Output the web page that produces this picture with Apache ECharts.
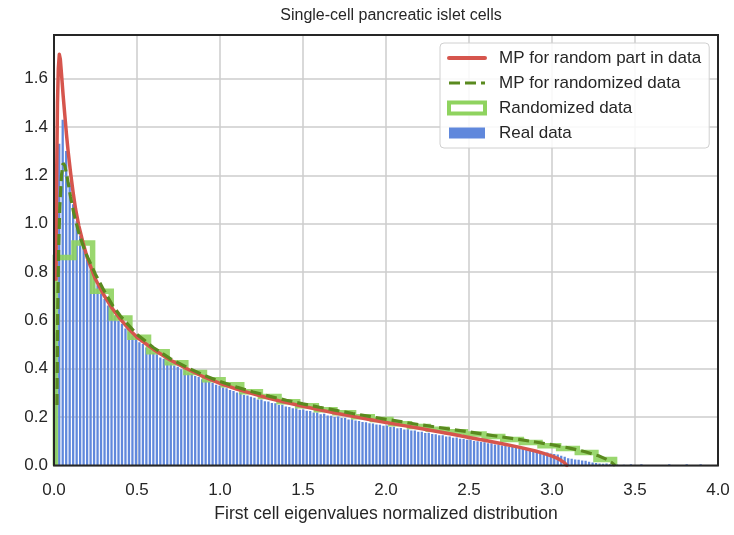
<!DOCTYPE html>
<html><head><meta charset="utf-8">
<script src="https://cdn.jsdelivr.net/npm/echarts@6/dist/echarts.min.js"></script>
<style>html,body{margin:0;padding:0;background:#fff}#c{width:734px;height:535px}</style>
</head><body><div id="c"></div>
<script>
// ---------- data ----------
const titleText = 'Single-cell pancreatic islet cells';
const xAxisName = 'First cell eigenvalues normalized distribution';
const seriesNames = ['MP for random part in data', 'MP for randomized data', 'Randomized data', 'Real data'];

// Real data histogram (density), fine bins
const realBinStart = 0.0;
const realBinWidth = 0.021;
const realValues = [
0.55, 1.33, 1.43, 1.30, 1.17, 1.08, 1.01, 0.95, 0.905, 0.85,
0.81, 0.775, 0.745, 0.71, 0.688, 0.662, 0.641, 0.62, 0.598, 0.586,
0.566, 0.553, 0.536, 0.527, 0.51, 0.502, 0.488, 0.479, 0.466, 0.46,
0.447, 0.441, 0.429, 0.424, 0.413, 0.408, 0.398, 0.393, 0.384, 0.379,
0.37, 0.366, 0.357, 0.353, 0.345, 0.341, 0.334, 0.33, 0.322, 0.319,
0.312, 0.308, 0.302, 0.3, 0.292, 0.289, 0.284, 0.28, 0.273, 0.273,
0.266, 0.265, 0.258, 0.257, 0.25, 0.251, 0.244, 0.242, 0.237, 0.237,
0.231, 0.232, 0.226, 0.225, 0.219, 0.219, 0.212, 0.214, 0.207, 0.206,
0.201, 0.203, 0.196, 0.196, 0.19, 0.191, 0.186, 0.184, 0.18, 0.179,
0.175, 0.174, 0.17, 0.169, 0.164, 0.165, 0.159, 0.16, 0.154, 0.155,
0.149, 0.15, 0.145, 0.145, 0.14, 0.14, 0.134, 0.135, 0.13, 0.129,
0.125, 0.125, 0.12, 0.12, 0.115, 0.116, 0.111, 0.11, 0.106, 0.106,
0.101, 0.1, 0.097, 0.096, 0.092, 0.092, 0.087, 0.087, 0.083, 0.082,
0.078, 0.078, 0.074, 0.073, 0.069, 0.069, 0.065, 0.064, 0.061, 0.06,
0.056, 0.054, 0.05, 0.048, 0.045, 0.04, 0.036, 0.03, 0.028, 0.025,
0.024, 0.021, 0.02, 0.016, 0.012, 0.01, 0.008, 0.007, 0.008, 0.005,
0.004, 0.004, 0, 0.003, 0, 0.005, 0, 0, 0.005, 0,
0, 0, 0, 0, 0, 0, 0.005, 0, 0, 0,
0, 0.005, 0, 0, 0, 0.005, 0
];

// Randomized data histogram (step), coarse bins
const randBinStart = 0.008;
const randBinWidth = 0.1123;
const randValues = [
0.86, 0.92, 0.72, 0.61, 0.53, 0.47, 0.425, 0.385, 0.355, 0.334,
0.305, 0.285, 0.264, 0.247, 0.231, 0.218, 0.202, 0.19, 0.173, 0.161,
0.15, 0.14, 0.13, 0.12, 0.107, 0.095, 0.082, 0.07, 0.054, 0.025
];

// MP curve for random part in data
const mpRealX = [0.012, 0.016, 0.021, 0.026, 0.032, 0.038, 0.045, 0.055, 0.065, 0.075,
  0.085, 0.1, 0.115, 0.13, 0.15, 0.175, 0.2, 0.25, 0.3, 0.35,
  0.4, 0.45, 0.5, 0.6, 0.7, 0.8, 0.9, 1.0, 1.1, 1.2,
  1.3, 1.4, 1.5, 1.6, 1.7, 1.8, 1.9, 2.0, 2.1, 2.2,
  2.3, 2.4, 2.5, 2.6, 2.7, 2.8, 2.9, 2.95, 3.0, 3.04,
  3.07, 3.085, 3.09];
const mpRealY = [0.77, 1.2, 1.5, 1.64, 1.70, 1.68, 1.62, 1.53, 1.45, 1.37,
  1.30, 1.21, 1.13, 1.06, 0.99, 0.92, 0.86, 0.77, 0.705, 0.65,
  0.605, 0.565, 0.53, 0.48, 0.436, 0.40, 0.367, 0.34, 0.316, 0.296,
  0.277, 0.26, 0.245, 0.23, 0.216, 0.203, 0.19, 0.178, 0.166, 0.154,
  0.142, 0.129, 0.116, 0.103, 0.09, 0.076, 0.06, 0.05, 0.039, 0.027,
  0.014, 0.004, 0];

// MP curve for randomized data
const mpRandX = [0.018, 0.022, 0.028, 0.035, 0.045, 0.055, 0.065, 0.08, 0.1, 0.12,
  0.15, 0.19, 0.25, 0.3, 0.35, 0.4, 0.5, 0.6, 0.7, 0.8,
  0.9, 1.0, 1.1, 1.2, 1.3, 1.4, 1.5, 1.6, 1.7, 1.8,
  1.9, 2.0, 2.1, 2.2, 2.3, 2.4, 2.5, 2.6, 2.7, 2.8,
  2.9, 3.0, 3.1, 3.2, 3.28, 3.33, 3.36, 3.38];
const mpRandY = [0.25, 0.62, 0.9, 1.07, 1.2, 1.25, 1.24, 1.19, 1.11, 1.04,
  0.96, 0.88, 0.79, 0.725, 0.665, 0.618, 0.542, 0.487, 0.442, 0.406,
  0.374, 0.347, 0.324, 0.304, 0.286, 0.27, 0.255, 0.241, 0.228, 0.215,
  0.203, 0.191, 0.18, 0.169, 0.159, 0.149, 0.139, 0.128, 0.118, 0.108,
  0.097, 0.086, 0.073, 0.057, 0.04, 0.025, 0.012, 0];

// axes
const xMin = 0, xMax = 4, xInterval = 0.5;
const yMin = 0, yMax = 1.78, yInterval = 0.2;

// ---------- chart ----------
const FONT = "'Liberation Sans', Arial, Helvetica, sans-serif";
const TXT = '#262626';
const C_RED = '#d6554d', C_DASH = '#5a8a1f', C_STEP = '#8fd35f', C_BAR = '#6088dc';

const realData = realValues.map((v, i) => [realBinStart + i * realBinWidth, realBinStart + (i + 1) * realBinWidth, v]);
const stepData = [[randBinStart, 0]];
randValues.forEach((v, i) => {
  const a = randBinStart + i * randBinWidth, b = randBinStart + (i + 1) * randBinWidth;
  stepData.push([a, v], [b, v]);
});
stepData.push([randBinStart + randValues.length * randBinWidth, 0]);
const mpReal = mpRealX.map((x, i) => [x, mpRealY[i]]);
const mpRand = mpRandX.map((x, i) => [x, mpRandY[i]]);

const chart = echarts.init(document.getElementById('c'), null, {renderer: 'canvas', width: 734, height: 535});
chart.setOption({
  animation: false,
  backgroundColor: '#ffffff',
  title: {
    text: titleText, left: 386, textAlign: 'center', top: 3,
    textStyle: {fontFamily: FONT, fontSize: 16, fontWeight: 'normal', color: TXT}
  },
  grid: {left: 54, right: 16, top: 35, bottom: 69.5, show: true, z: 10,
    borderColor: '#262626', borderWidth: 2, backgroundColor: 'rgba(0,0,0,0)', containLabel: false, outerBoundsMode: 'none'},
  legend: {
    orient: 'vertical', left: 440, top: 43, padding: [5, 8, 5, 7], itemGap: 5,
    itemWidth: 36, itemHeight: 11, borderColor: '#d0d0d0', borderWidth: 1, borderRadius: 4,
    backgroundColor: 'rgba(255,255,255,0.85)', selectedMode: false, z: 20,
    textStyle: {fontFamily: FONT, fontSize: 17, color: TXT, lineHeight: 20, padding: [0, 0, 0, 9]},
    data: [
      {name: seriesNames[0], itemStyle: {opacity: 0}, lineStyle: {width: 4}},
      {name: seriesNames[1], itemStyle: {opacity: 0}, lineStyle: {width: 3, type: [11, 5]}},
      {name: seriesNames[2], icon: 'rect', itemStyle: {color: '#ffffff', borderColor: C_STEP, borderWidth: 4}},
      {name: seriesNames[3], icon: 'rect', itemStyle: {color: C_BAR}}
    ]
  },
  xAxis: {
    type: 'value', min: xMin, max: xMax, interval: xInterval,
    name: xAxisName, nameLocation: 'middle', nameGap: 40,
    nameTextStyle: {fontFamily: FONT, fontSize: 17.5, color: TXT},
    axisLine: {show: false}, axisTick: {show: false},
    axisLabel: {fontFamily: FONT, fontSize: 17, color: TXT, margin: 16, formatter: v => v.toFixed(1)},
    splitLine: {show: true, lineStyle: {color: '#cccccc', width: 1.5}}
  },
  yAxis: {
    type: 'value', min: yMin, max: yMax, interval: yInterval,
    axisLine: {show: false}, axisTick: {show: false},
    axisLabel: {fontFamily: FONT, fontSize: 17, color: TXT, margin: 6, showMaxLabel: false, formatter: v => v.toFixed(1)},
    splitLine: {show: true, lineStyle: {color: '#cccccc', width: 1.5}}
  },
  series: [
    {
      name: seriesNames[3], type: 'custom', z: 2, clip: true,
      itemStyle: {color: C_BAR},
      encode: {x: [0, 1], y: 2},
      data: realData,
      renderItem: function (params, api) {
        const x0 = api.value(0), x1 = api.value(1), y = api.value(2);
        const p0 = api.coord([x0, 0]);
        const p1 = api.coord([x1, y]);
        return {type: 'rect', shape: {x: p0[0] + 0.6, y: p1[1], width: Math.max(0, p1[0] - p0[0] - 1.2), height: p0[1] - p1[1]},
          style: {fill: C_BAR}};
      }
    },
    {
      name: seriesNames[2], type: 'line', z: 3, symbol: 'none', data: stepData,
      itemStyle: {color: C_STEP},
      lineStyle: {color: C_STEP, width: 5.5, opacity: 0.9, join: 'miter'}
    },
    {
      name: seriesNames[0], type: 'line', z: 4, symbol: 'none', data: mpReal,
      itemStyle: {color: C_RED},
      lineStyle: {color: C_RED, width: 3.5, join: 'round', cap: 'round'}
    },
    {
      name: seriesNames[1], type: 'line', z: 5, symbol: 'none', data: mpRand,
      itemStyle: {color: C_DASH},
      lineStyle: {color: C_DASH, width: 3.2, type: [11, 5]}
    }
  ]
});
</script>
</body></html>
